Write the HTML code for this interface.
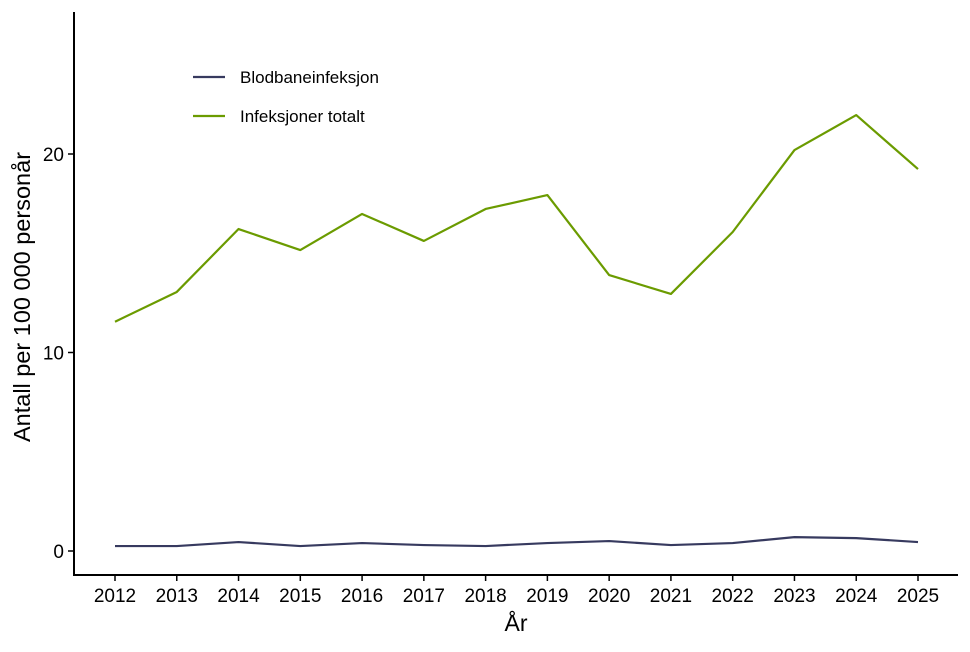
<!DOCTYPE html>
<html><head><meta charset="utf-8"><style>
html,body{margin:0;padding:0;background:#fff;}
svg text{font-family:"Liberation Sans",sans-serif;}
</style></head><body>
<svg id="chart" width="970" height="647" xmlns="http://www.w3.org/2000/svg"></svg>
<script>
const years = [2012,2013,2014,2015,2016,2017,2018,2019,2020,2021,2022,2023,2024,2025];
const totalt = [11.55,13.05,16.22,15.16,16.98,15.62,17.23,17.93,13.9,12.95,16.07,20.2,21.96,19.24];
const blodbane = [0.25,0.25,0.45,0.25,0.4,0.3,0.25,0.4,0.5,0.3,0.4,0.7,0.65,0.45];
const yTicks = [0,10,20];
const seriesNames = ["Blodbaneinfeksjon","Infeksjoner totalt"];

const NS="http://www.w3.org/2000/svg";
const svg=document.getElementById('chart');
const x=v=>115+(v-2012)*(918-115)/13;
const y=v=>551-v*(551-154)/20;
function el(t,a){const e=document.createElementNS(NS,t);for(const k in a)e.setAttribute(k,a[k]);svg.appendChild(e);return e;}

let ax=el('path',{d:'M74,12V575H958',fill:'none',stroke:'#000','stroke-width':2});



yTicks.forEach(v=>{
  let t=el('line',{x1:68,x2:74,y1:y(v),y2:y(v),stroke:'#000','stroke-width':1.5});
  
  
  let l=el('text',{x:64,y:y(v)+7,'text-anchor':'end','font-size':19,fill:'#000'});
  l.textContent=v;
  
  
});
years.forEach(v=>{
  let t=el('line',{x1:x(v),x2:x(v),y1:575,y2:581,stroke:'#000','stroke-width':1.5});
  
  
  let l=el('text',{x:x(v),y:602,'text-anchor':'middle','font-size':19,fill:'#000'});
  l.textContent=v;
  
  
});

let xt=el('text',{x:516,y:631,'text-anchor':'middle','font-size':23,fill:'#000'});
xt.textContent='År';


let yt=el('text',{x:0,y:0,'text-anchor':'middle','font-size':23.5,fill:'#000',transform:'translate(30,297) rotate(-90)'});
yt.textContent='Antall per 100 000 personår';



function line(vals,color,name){
  const d=vals.map((v,i)=>(i?'L':'M')+x(years[i])+','+y(v)).join('');
  let p=el('path',{d:d,fill:'none',stroke:color,'stroke-width':2.2,'stroke-linejoin':'round'});
  
  
}
line(blodbane,'#373a5f','line-blodbaneinfeksjon');
line(totalt,'#6b9b00','line-infeksjoner-totalt');

[['#373a5f',77],['#6b9b00',116]].forEach((c,i)=>{
  let s=el('line',{x1:193,x2:225,y1:c[1],y2:c[1],stroke:c[0],'stroke-width':2.2});
  
  
  let t=el('text',{x:240,y:c[1]+6,'font-size':17,fill:'#000'});
  t.textContent=seriesNames[i];
  
  
});
</script>
</body></html>
